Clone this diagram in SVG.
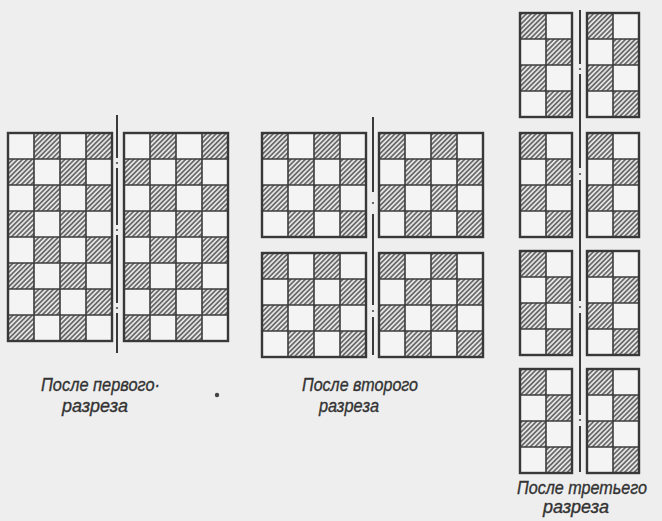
<svg xmlns="http://www.w3.org/2000/svg" xmlns:xlink="http://www.w3.org/1999/xlink" width="662" height="521" viewBox="0 0 662 521">
<style>
.grid{fill:none;stroke:#3c3c3c;stroke-width:1.6}
.frame{fill:none;stroke:#383838;stroke-width:2.4}
.cut{fill:none;stroke:#3a3a3a;stroke-width:2}
.dot{fill:#3a3a3a}
.lbl{font-family:"Liberation Sans",Arial,sans-serif;font-style:italic;font-size:19px;fill:#333;stroke:#333;stroke-width:0.35}
</style>
<defs>
<pattern id="hatch" width="3.4" height="3.4" patternUnits="userSpaceOnUse" patternTransform="rotate(45)">
<rect width="3.4" height="3.4" fill="#e4e4e4"/>
<line x1="1.7" y1="0" x2="1.7" y2="3.4" stroke="#4a4a4a" stroke-width="1.35"/>
</pattern>
<pattern id="odd" width="52" height="52" patternUnits="userSpaceOnUse">
<rect width="52" height="52" fill="#f4f4f4"/>
<rect x="26" y="0" width="26" height="26" fill="url(#hatch)"/>
<rect x="0" y="26" width="26" height="26" fill="url(#hatch)"/>
</pattern>
<pattern id="even" width="52" height="52" patternUnits="userSpaceOnUse">
<rect width="52" height="52" fill="#f4f4f4"/>
<rect x="0" y="0" width="26" height="26" fill="url(#hatch)"/>
<rect x="26" y="26" width="26" height="26" fill="url(#hatch)"/>
</pattern>
<path id="g48" d="M26 0V208M52 0V208M78 0V208M0 26H104M0 52H104M0 78H104M0 104H104M0 130H104M0 156H104M0 182H104"/>
<path id="g44" d="M26 0V104M52 0V104M78 0V104M0 26H104M0 52H104M0 78H104"/>
<path id="g24" d="M26 0V104M0 26H52M0 52H52M0 78H52"/>
</defs>
<rect width="662" height="521" fill="#eeeeee"/>

<g id="cuts">
<path class="cut" d="M117 115V158M117 168V225M117 235V303M117 313V353"/>
<circle class="dot" cx="117" cy="163" r="1"/><circle class="dot" cx="117" cy="230" r="1"/><circle class="dot" cx="117" cy="308" r="1"/>
<path class="cut" d="M373 117V192M373 214V305M373 317V355"/>
<circle class="dot" cx="373" cy="203" r="1"/><circle class="dot" cx="373" cy="311" r="1"/>
<path class="cut" d="M580 10V64M580 74V168M580 180V301M580 313V415M580 426V472"/>
<circle class="dot" cx="580" cy="69" r="1"/><circle class="dot" cx="580" cy="174" r="1"/><circle class="dot" cx="580" cy="307" r="1"/><circle class="dot" cx="580" cy="420" r="1"/>
</g>

<g id="s1-left" transform="translate(8,133)"><rect width="104" height="208" fill="url(#odd)"/><use xlink:href="#g48" class="grid"/><rect class="frame" width="104" height="208"/></g>
<g id="s1-right" transform="translate(124,133)"><rect width="104" height="208" fill="url(#odd)"/><use xlink:href="#g48" class="grid"/><rect class="frame" width="104" height="208"/></g>

<g id="s2-tl" transform="translate(262,133)"><rect width="104" height="104" fill="url(#even)"/><use xlink:href="#g44" class="grid"/><rect class="frame" width="104" height="104"/></g>
<g id="s2-tr" transform="translate(379,133)"><rect width="104" height="104" fill="url(#even)"/><use xlink:href="#g44" class="grid"/><rect class="frame" width="104" height="104"/></g>
<g id="s2-bl" transform="translate(262,253)"><rect width="104" height="104" fill="url(#even)"/><use xlink:href="#g44" class="grid"/><rect class="frame" width="104" height="104"/></g>
<g id="s2-br" transform="translate(379,253)"><rect width="104" height="104" fill="url(#even)"/><use xlink:href="#g44" class="grid"/><rect class="frame" width="104" height="104"/></g>

<g id="s3-l1" transform="translate(520,13)"><rect width="52" height="104" fill="url(#even)"/><use xlink:href="#g24" class="grid"/><rect class="frame" width="52" height="104"/></g>
<g id="s3-r1" transform="translate(587,13)"><rect width="52" height="104" fill="url(#even)"/><use xlink:href="#g24" class="grid"/><rect class="frame" width="52" height="104"/></g>
<g id="s3-l2" transform="translate(520,133)"><rect width="52" height="104" fill="url(#even)"/><use xlink:href="#g24" class="grid"/><rect class="frame" width="52" height="104"/></g>
<g id="s3-r2" transform="translate(587,133)"><rect width="52" height="104" fill="url(#even)"/><use xlink:href="#g24" class="grid"/><rect class="frame" width="52" height="104"/></g>
<g id="s3-l3" transform="translate(520,251)"><rect width="52" height="104" fill="url(#even)"/><use xlink:href="#g24" class="grid"/><rect class="frame" width="52" height="104"/></g>
<g id="s3-r3" transform="translate(587,251)"><rect width="52" height="104" fill="url(#even)"/><use xlink:href="#g24" class="grid"/><rect class="frame" width="52" height="104"/></g>
<g id="s3-l4" transform="translate(520,369)"><rect width="52" height="104" fill="url(#even)"/><use xlink:href="#g24" class="grid"/><rect class="frame" width="52" height="104"/></g>
<g id="s3-r4" transform="translate(587,369)"><rect width="52" height="104" fill="url(#even)"/><use xlink:href="#g24" class="grid"/><rect class="frame" width="52" height="104"/></g>

<g id="labels">
<text class="lbl" x="41" y="391" textLength="119" lengthAdjust="spacingAndGlyphs">После первого·</text>
<text class="lbl" x="62" y="412" textLength="66" lengthAdjust="spacingAndGlyphs">разреза</text>
<circle cx="217" cy="395" r="2.2" fill="#444"/>
<text class="lbl" x="302" y="391" textLength="116" lengthAdjust="spacingAndGlyphs">После второго</text>
<text class="lbl" x="319" y="412" textLength="60" lengthAdjust="spacingAndGlyphs">разреза</text>
<text class="lbl" x="517" y="494" textLength="130" lengthAdjust="spacingAndGlyphs" style="font-size:18px">После третьего</text>
<text class="lbl" x="543" y="513" textLength="66" lengthAdjust="spacingAndGlyphs" style="font-size:18px">разреза</text>
</g>
</svg>
